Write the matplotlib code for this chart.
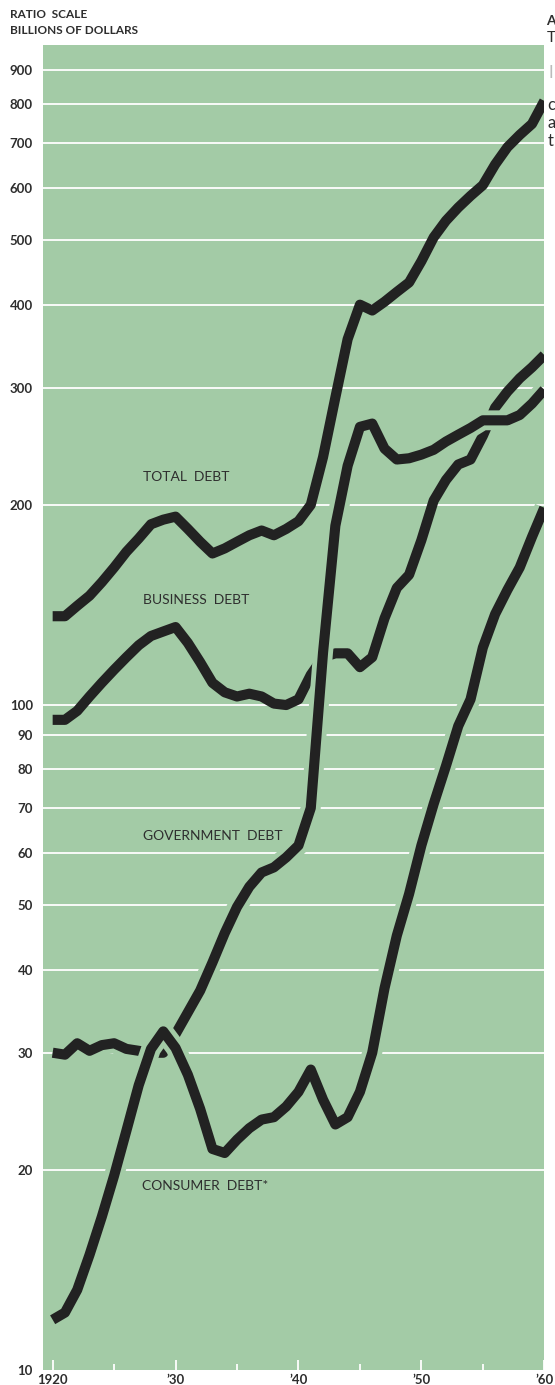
import matplotlib
matplotlib.use("Agg")
import matplotlib.pyplot as plt
import matplotlib.patheffects as pe
from matplotlib.ticker import FixedLocator, NullFormatter

# values (billions of dollars, year end)
years = list(range(1920, 1961))
total_debt = [136, 136, 141, 146, 153, 161, 170, 178, 187, 190,
              192, 184, 176, 169, 172, 176, 180, 183, 180, 184,
              189, 200, 236, 290, 355, 400, 392, 404, 418, 432,
              465, 505, 535, 560, 583, 605, 650, 690, 720, 748,
              810]
business_debt = [95, 95, 98, 103, 108, 113, 118, 123, 127, 129,
                 131, 124, 116, 108, 104.5, 103, 104, 103, 100.5, 100,
                 102, 111, 118, 119.6, 119.6, 114, 118, 135, 150, 157,
                 177, 203, 218, 230, 234, 254, 280, 296, 310, 322,
                 336]
government_debt = [30, 29.8, 31, 30.2, 30.8, 31, 30.4, 30.2, 30, 30,
                   32, 34.5, 37.2, 41, 45.4, 49.7, 53.3, 56, 57, 59,
                   61.5, 70, 120, 186, 229, 262, 265, 243, 234, 235,
                   238, 242, 249, 255, 261, 268, 268, 268, 273, 284,
                   298]
consumer_debt = [11.9, 12.2, 13.2, 14.9, 17.0, 19.6, 22.9, 26.8, 30.4, 32.3,
                 30.5, 27.8, 24.7, 21.5, 21.2, 22.2, 23.1, 23.8, 24.0, 24.9,
                 26.2, 28.3, 25.5, 23.4, 24.0, 26.2, 30.0, 37.5, 45.0, 52.0,
                 61.5, 71.0, 81.0, 93.0, 102.0, 122.0, 137.0, 149.0, 161.0, 179.0,
                 198.0]

grid_values = [20, 30, 40, 50, 60, 70, 80, 90, 100, 200, 300, 400, 500, 600, 700, 800, 900]
y_ticks = [10, 20, 30, 40, 50, 60, 70, 80, 90, 100, 200, 300, 400, 500, 600, 700, 800, 900]
x_ticks = [1920, 1930, 1940, 1950, 1960]
x_labels = ["1920", "\u201930", "\u201940", "\u201950", "\u201960"]
x_minor = [1925, 1935, 1945, 1955]

green = "#a3cba6"
ink = "#222222"
txt = "#2e2e2e"

plt.rcParams['font.family'] = ['Lato', 'DejaVu Sans']

W, H = 555, 1385
fig = plt.figure(figsize=(W / 100, H / 100), dpi=100)
fig.patch.set_facecolor("white")
ax = fig.add_axes([42.7 / W, 15 / H, (544.3 - 42.7) / W, (1370 - 45) / H])
ax.set_facecolor(green)
ax.set_yscale("log")
ax.set_xlim(1919.19, 1960.0)
ax.set_ylim(10, 983)
for s in ax.spines.values():
    s.set_visible(False)

for g in grid_values:
    ax.axhline(g, color="white", lw=1.3, zorder=1)

ax.yaxis.set_major_locator(FixedLocator(y_ticks))
ax.yaxis.set_minor_locator(FixedLocator([]))
ax.yaxis.set_minor_formatter(NullFormatter())
ax.set_yticklabels([str(v) for v in y_ticks])
ax.tick_params(axis="y", length=0, pad=7, labelsize=9.5, labelcolor=txt)
for lab in ax.get_yticklabels():
    lab.set_fontweight("bold")

ax.set_xticks(x_ticks)
ax.set_xticklabels(x_labels)
ax.set_xticks(x_minor, minor=True)
ax.tick_params(axis="x", which="major", direction="in", length=7.5, width=1.3,
               color="white", pad=3, labelsize=9.5, labelcolor=txt)
ax.tick_params(axis="x", which="minor", direction="in", length=4, width=1.3, color="white")
for lab in ax.get_xticklabels():
    lab.set_fontweight("bold")

lw = 7.3
halo = [pe.Stroke(linewidth=lw + 7, foreground=green), pe.Normal()]
ax.plot(years, total_debt, color=ink, lw=lw, solid_capstyle="butt", solid_joinstyle="round", zorder=3)
ax.plot(years, business_debt, color=ink, lw=lw, solid_capstyle="butt", solid_joinstyle="round", zorder=4)
ax.plot(years, government_debt, color=ink, lw=lw, solid_capstyle="butt", solid_joinstyle="round",
        zorder=5, path_effects=halo)
ax.plot(years, consumer_debt, color=ink, lw=lw, solid_capstyle="butt", solid_joinstyle="round",
        zorder=6, path_effects=halo)

lab_kw = dict(ha="left", va="center", fontsize=10, color=txt, zorder=7)
ax.text(1927.35, 220, "TOTAL  DEBT", **lab_kw)
ax.text(1927.35, 144, "BUSINESS  DEBT", **lab_kw)
ax.text(1927.35, 63.5, "GOVERNMENT  DEBT", **lab_kw)
ax.text(1927.3, 18.9, "CONSUMER  DEBT*", **lab_kw)

fig.text(10 / W, 1 - 14 / H, "RATIO  SCALE", ha="left", va="center", fontsize=8.5,
         fontweight="bold", color=txt)
fig.text(10 / W, 1 - 31 / H, "BILLIONS OF DOLLARS", ha="left", va="center", fontsize=8.5,
         fontweight="bold", color=txt)

# fragments of the neighbouring column at the page edge
fig.text(546 / W, 1 - 21 / H, "A", ha="left", va="center", fontsize=10, fontweight="bold", color=txt)
fig.text(547 / W, 1 - 38 / H, "T", ha="left", va="center", fontsize=11, color=txt)
fig.text(548 / W, 1 - 73 / H, "I", ha="left", va="center", fontsize=12, color="#bbbbbb")
fig.text(547 / W, 1 - 105 / H, "c", ha="left", va="center", fontsize=12, color=txt)
fig.text(547 / W, 1 - 123 / H, "a", ha="left", va="center", fontsize=12, color=txt)
fig.text(548 / W, 1 - 141 / H, "t", ha="left", va="center", fontsize=12, color=txt)

fig.savefig("out.png", dpi=100, facecolor="white")
